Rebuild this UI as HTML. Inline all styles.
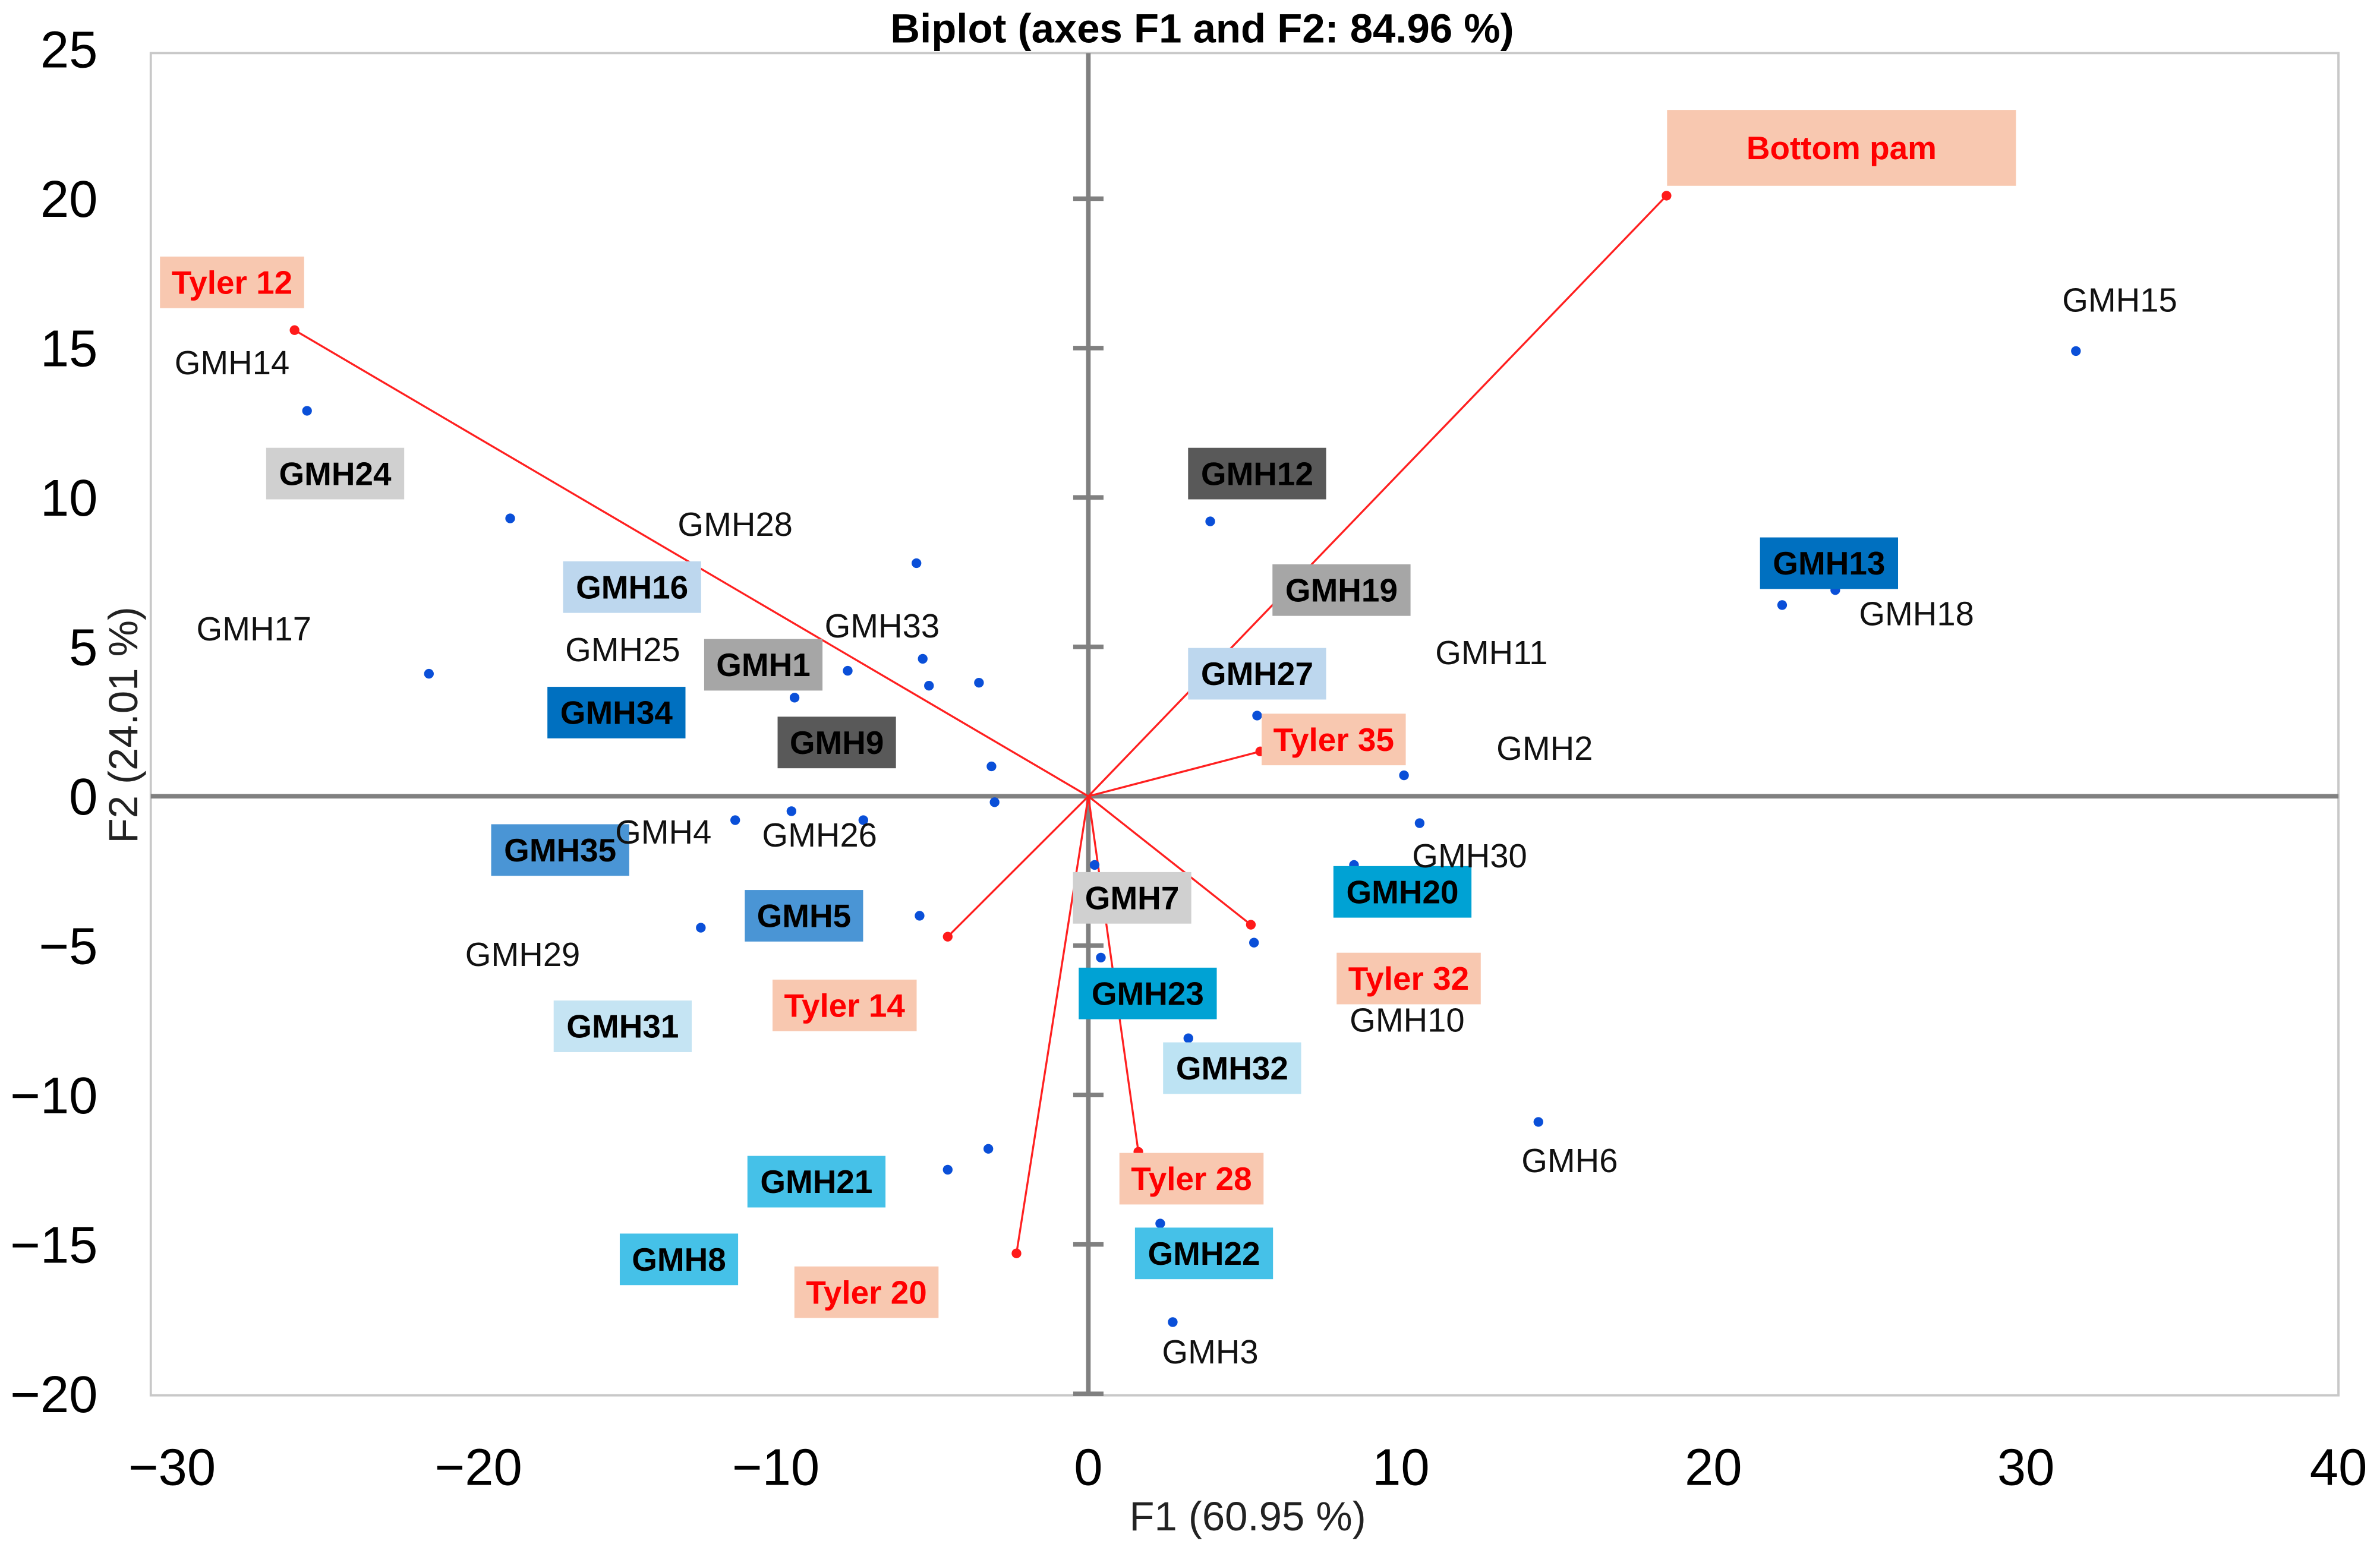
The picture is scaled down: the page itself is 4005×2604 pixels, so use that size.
<!DOCTYPE html>
<html><head><meta charset="utf-8"><style>
html,body{margin:0;padding:0;background:#fff;}
svg{display:block;font-family:"Liberation Sans",Arial,sans-serif;}
</style></head><body>
<svg id="chart" width="4005" height="2604" viewBox="0 0 1568 1020" xmlns="http://www.w3.org/2000/svg">
<rect x="0" y="0" width="1568" height="1020" fill="#fff"/>
<rect x="99" y="35" width="1442" height="885" fill="none" stroke="#c8c8c8" stroke-width="1.5"/>
<text x="792" y="28" font-size="27" font-weight="bold" text-anchor="middle">Biplot (axes F1 and F2: 84.96 %)</text>
<text x="822" y="1009" font-size="27" text-anchor="middle" fill="#222">F1 (60.95 %)</text>
<text x="0" y="0" font-size="27" text-anchor="middle" fill="#222" transform="translate(90,478) rotate(-90)">F2 (24.01 %)</text>
<g id="axes"></g><g id="vectors"></g><g id="points"></g><g id="labels"></g>
</svg>
<script>
const xTicks=[-30,-20,-10,0,10,20,30,40];
const yTicks=[25,20,15,10,5,0,-5,-10,-15,-20];
const pointX=[-25.0,-18.5,-21.1,-5.5,-7.7,-9.4,-5.3,-5.1,-3.5,-3.1,-3.0,-11.3,-9.5,-7.2,-12.4,-5.4,-4.5,-3.2,3.9,5.4,10.1,10.6,8.5,5.3,0.2,0.4,3.2,2.3,2.7,14.4,22.2,23.9,31.6];
const pointY=[12.9,9.3,4.1,7.8,4.2,3.3,4.6,3.7,3.8,1.0,-0.2,-0.8,-0.5,-0.8,-4.4,-4.0,-12.5,-11.8,9.2,2.7,0.7,-0.9,-2.3,-4.9,-2.3,-5.4,-8.1,-14.3,-17.6,-10.9,6.4,6.9,14.9];
const vecNames=["Tyler 12","Bottom pam","Tyler 35","Tyler 32","Tyler 14","Tyler 20","Tyler 28"];
const vecX=[-25.4,18.5,5.5,5.2,-4.5,-2.3,1.6];
const vecY=[15.6,20.1,1.5,-4.3,-4.7,-15.3,-11.9];
const boxNames=["Tyler 12","Bottom pam","GMH24","GMH16","GMH1","GMH34","GMH9","GMH35","GMH5","GMH31","Tyler 14","GMH21","GMH8","Tyler 20","GMH12","GMH19","GMH27","Tyler 35","GMH7","GMH20","Tyler 32","GMH23","GMH32","Tyler 28","GMH22","GMH13"];
const boxCx=[-27.4,24.1,-24.1,-14.6,-10.4,-15.1,-8.05,-16.9,-9.1,-14.9,-7.8,-8.7,-13.1,-7.1,5.4,8.1,5.4,7.85,1.4,10.05,10.25,1.9,4.6,3.3,3.7,23.7];
const boxCy=[17.2,21.7,10.8,7.0,4.4,2.8,1.8,-1.8,-4.0,-7.7,-7.0,-12.9,-15.5,-16.6,10.8,6.9,4.1,1.9,-3.4,-3.2,-6.1,-6.6,-9.1,-12.8,-15.3,7.8];
const boxColors=["#f8c8b0","#f8c8b0","#d0d0d0","#bdd7ee","#a6a6a6","#0070c0","#595959","#4a95d5","#4a95d5","#c5e4f3","#f8c8b0","#45c1e8","#45c1e8","#f8c8b0","#595959","#a6a6a6","#bdd7ee","#f8c8b0","#d0d0d0","#00a2d4","#f8c8b0","#00a2d4","#bde3f3","#f8c8b0","#45c1e8","#0070c0"];
const plainNames=["GMH15","GMH14","GMH28","GMH17","GMH25","GMH33","GMH11","GMH18","GMH2","GMH4","GMH26","GMH30","GMH29","GMH10","GMH6","GMH3"];
const plainX=[33.0,-27.4,-11.3,-26.7,-14.9,-6.6,12.9,26.5,14.6,-13.6,-8.6,12.2,-18.1,10.2,15.4,3.9];
const plainY=[16.6,14.5,9.1,5.6,4.9,5.7,4.8,6.1,1.6,-1.2,-1.3,-2.0,-5.3,-7.5,-12.2,-18.6];

const NS="http://www.w3.org/2000/svg";
const X=v=>717+v*20.6, Y=v=>525-v*19.7;
function mk(tag,attrs,parent){const e=document.createElementNS(NS,tag);for(const k in attrs)e.setAttribute(k,attrs[k]);parent.appendChild(e);return e;}
const gA=document.getElementById('axes'),gV=document.getElementById('vectors'),gP=document.getElementById('points'),gL=document.getElementById('labels');
let l=mk('line',{x1:99,x2:1541,y1:Y(0),y2:Y(0),stroke:'#808080','stroke-width':3},gA);


l=mk('line',{x1:X(0),x2:X(0),y1:35,y2:920,stroke:'#808080','stroke-width':3},gA);


yTicks.forEach(t=>{
  if(t!==25&&t!==0){const tk=mk('line',{x1:X(0)-10,x2:X(0)+10,y1:Y(t),y2:Y(t),stroke:'#808080','stroke-width':3},gA);
  
  }
  const tx=mk('text',{x:64,y:Y(t)+12,'font-size':34,'text-anchor':'end'},gA);tx.textContent=t<0?'\u2212'+(-t):t;
  
  
});
xTicks.forEach(t=>{
  const tx=mk('text',{x:X(t)+(t===-30?14:(t===-20?10:0)),y:979,'font-size':34,'text-anchor':'middle'},gA);tx.textContent=t<0?'\u2212'+(-t):t;
  
  
});
vecX.forEach((v,i)=>{
  const ln=mk('line',{x1:X(0),y1:Y(0),x2:X(v),y2:Y(vecY[i]),stroke:'#ff2020','stroke-width':1.3},gV);
  
  
  const c=mk('circle',{cx:X(v),cy:Y(vecY[i]),r:3.2,fill:'#ff1a1a'},gV);
  
  
});
pointX.forEach((v,i)=>{
  const c=mk('circle',{cx:X(v),cy:Y(pointY[i]),r:3.2,fill:'#0a4fd8'},gP);
  
  
});
boxNames.forEach((n,i)=>{
  const tyl=n.startsWith('Tyler')||n.startsWith('Bottom');
  const w=n==='Bottom pam'?230:(n.length<=4?78:(tyl?95:91)), h=n==='Bottom pam'?50:34;
  const cx=X(boxCx[i]), cy=Y(boxCy[i]);
  const g=mk('g',{},gL);
  
  
  mk('rect',{x:cx-w/2,y:cy-h/2,width:w,height:h,fill:boxColors[i]},g);
  const t=mk('text',{x:cx,y:cy+7.5,'font-size':21.5,'font-weight':'bold','text-anchor':'middle',fill:tyl?'#ff0000':'#000'},g);
  t.textContent=n;
});
plainNames.forEach((n,i)=>{
  const t=mk('text',{x:X(plainX[i]),y:Y(plainY[i])+7.5,'font-size':22,'text-anchor':'middle',fill:'#111'},gL);
  t.textContent=n;
  
  
});
</script>
</body></html>
